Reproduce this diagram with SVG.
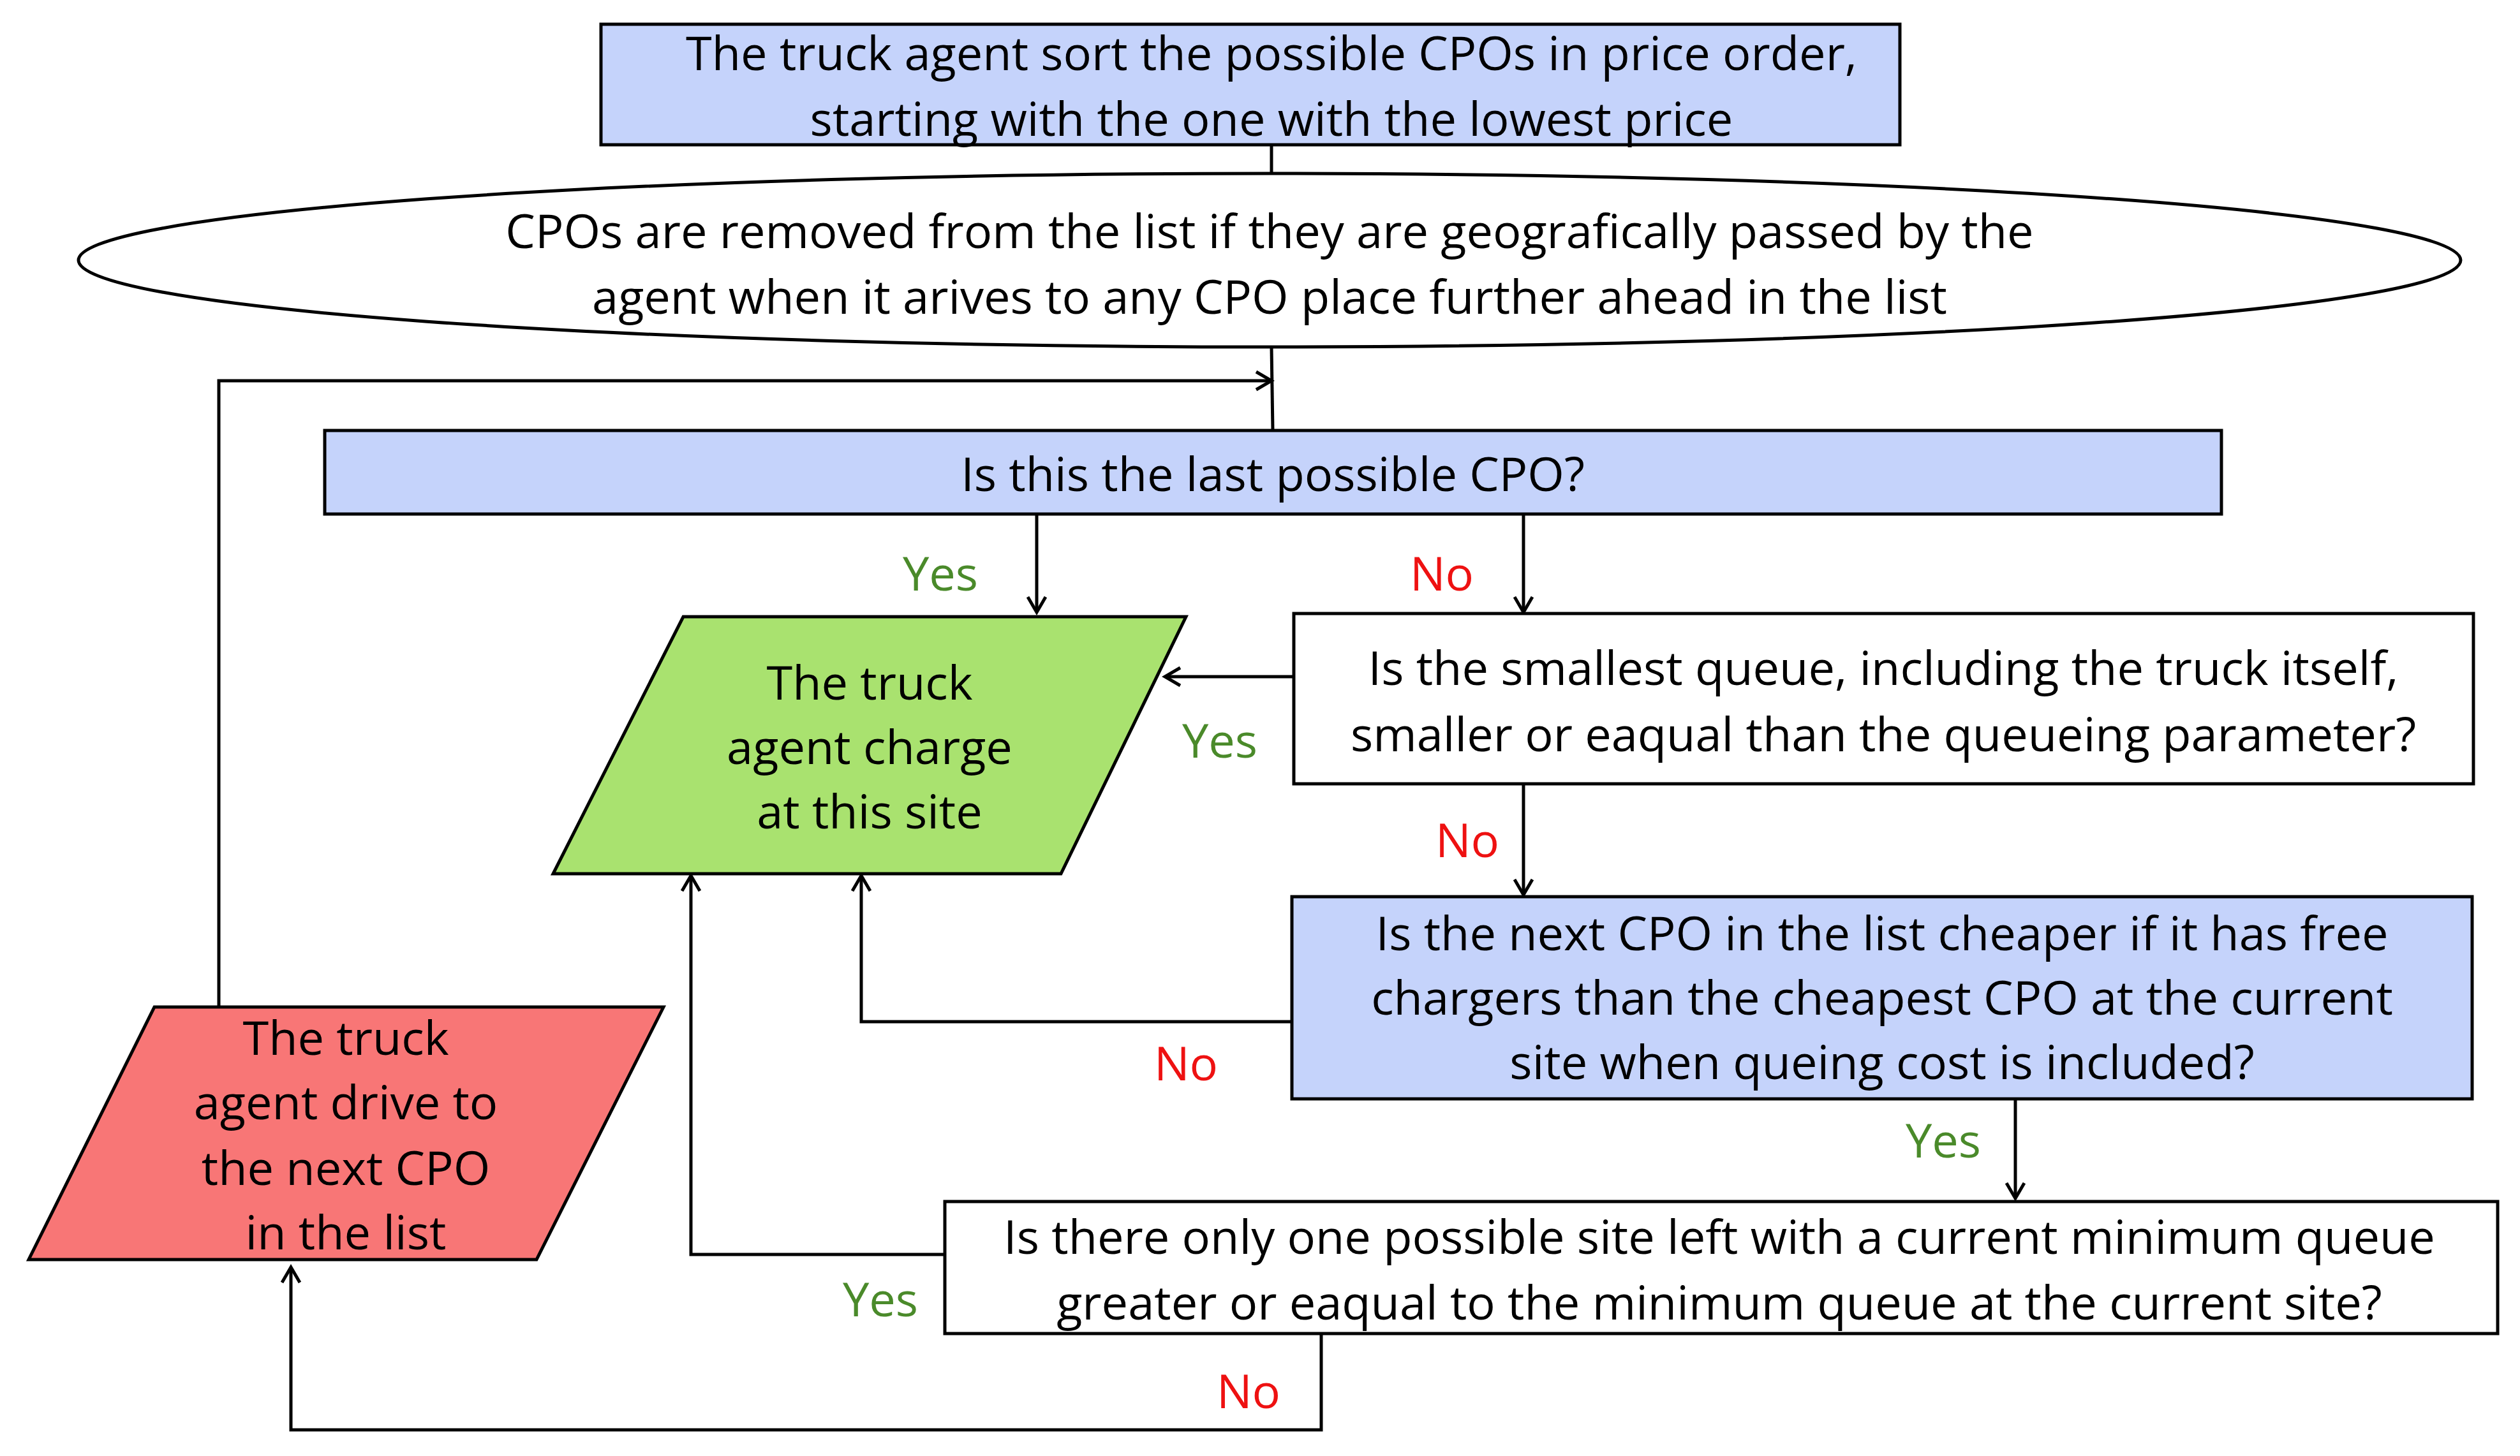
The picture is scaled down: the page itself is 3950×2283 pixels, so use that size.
<svg xmlns="http://www.w3.org/2000/svg" width="3950" height="2283" viewBox="0 0 3950 2283">
<style>
.s{stroke:#000;stroke-width:5;}
.c{fill:none;stroke:#000;stroke-width:5;}
text{font-family:"Open Sans","Liberation Sans",sans-serif;font-size:74px;text-anchor:middle;dominant-baseline:central;fill:#000;}
.y{fill:#4a8a2a;}
.n{fill:#ee1111;}
</style>
<defs>
<marker id="a" markerWidth="12" markerHeight="12" refX="10" refY="6" orient="auto" markerUnits="userSpaceOnUse" viewBox="0 0 12 12" overflow="visible">
<path d="M-14,-8 L10,6 L-14,20" fill="none" stroke="#000" stroke-width="5"/>
</marker>
</defs>
<rect width="3950" height="2283" fill="#fff"/>
<g id="connectors">
<path class="c" d="M1993,227 V272"/>
<path class="c" d="M1993,544 L1995,675"/>
<path class="c" d="M343,1577 V597 H1993" marker-end="url(#a)"/>
<path class="c" d="M1625,806 V960" marker-end="url(#a)"/>
<path class="c" d="M2388,806 V960" marker-end="url(#a)"/>
<path class="c" d="M2028,1061 H1826" marker-end="url(#a)"/>
<path class="c" d="M2388,1229 V1403" marker-end="url(#a)"/>
<path class="c" d="M2025,1602 H1350 V1373" marker-end="url(#a)"/>
<path class="c" d="M3159,1723 V1879" marker-end="url(#a)"/>
<path class="c" d="M1481,1967 H1083 V1373" marker-end="url(#a)"/>
<path class="c" d="M2071,2091 V2242 H456 V1987" marker-end="url(#a)"/>
</g>
<g id="n1"><rect class="s" x="942" y="38" width="2036" height="189" fill="#c5d3fb"/>
<text x="1993" y="81">The truck agent sort the possible CPOs in price order,</text>
<text x="1993" y="184">starting with the one with the lowest price</text></g>
<g id="n2"><ellipse class="s" cx="1990" cy="408" rx="1867" ry="136" fill="#fff"/>
<text x="1990" y="360">CPOs are removed from the list if they are geografically passed by the</text>
<text x="1990" y="463">agent when it arives to any CPO place further ahead in the list</text></g>
<g id="n3"><rect class="s" x="509" y="675" width="2973" height="131" fill="#c5d3fb"/>
<text x="1995" y="741">Is this the last possible CPO?</text></g>
<g id="n4"><polygon class="s" points="1071,967 1859,967 1663,1370 867,1370" fill="#a9e26f"/>
<text x="1363" y="1068">The truck</text><text x="1363" y="1169">agent charge</text><text x="1363" y="1270">at this site</text></g>
<g id="n5"><rect class="s" x="2028" y="962" width="1849" height="267" fill="#fff"/>
<text x="2952" y="1045">Is the smallest queue, including the truck itself,</text>
<text x="2952" y="1149">smaller or eaqual than the queueing parameter?</text></g>
<g id="n6"><rect class="s" x="2025" y="1406" width="1850" height="317" fill="#c5d3fb"/>
<text x="2950" y="1461">Is the next CPO in the list cheaper if it has free</text>
<text x="2950" y="1562">chargers than the cheapest CPO at the current</text>
<text x="2950" y="1663">site when queing cost is included?</text></g>
<g id="n7"><rect class="s" x="1481" y="1884" width="2434" height="207" fill="#fff"/>
<text x="2695" y="1937">Is there only one possible site left with a current minimum queue</text>
<text x="2695" y="2040">greater or eaqual to the minimum queue at the current site?</text></g>
<g id="n8"><polygon class="s" points="242,1579 1040,1579 841,1975 45,1975" fill="#f87676"/>
<text x="542" y="1625">The truck</text><text x="542" y="1726">agent drive to</text><text x="542" y="1829">the next CPO</text><text x="542" y="1930">in the list</text></g>
<g id="labels">
<text class="y" x="1474" y="897">Yes</text>
<text class="n" x="2260" y="897">No</text>
<text class="y" x="1912" y="1159">Yes</text>
<text class="n" x="2300" y="1315">No</text>
<text class="n" x="1859" y="1665">No</text>
<text class="y" x="3046" y="1786">Yes</text>
<text class="y" x="1380" y="2035">Yes</text>
<text class="n" x="1957" y="2179">No</text>
</g>
</svg>
